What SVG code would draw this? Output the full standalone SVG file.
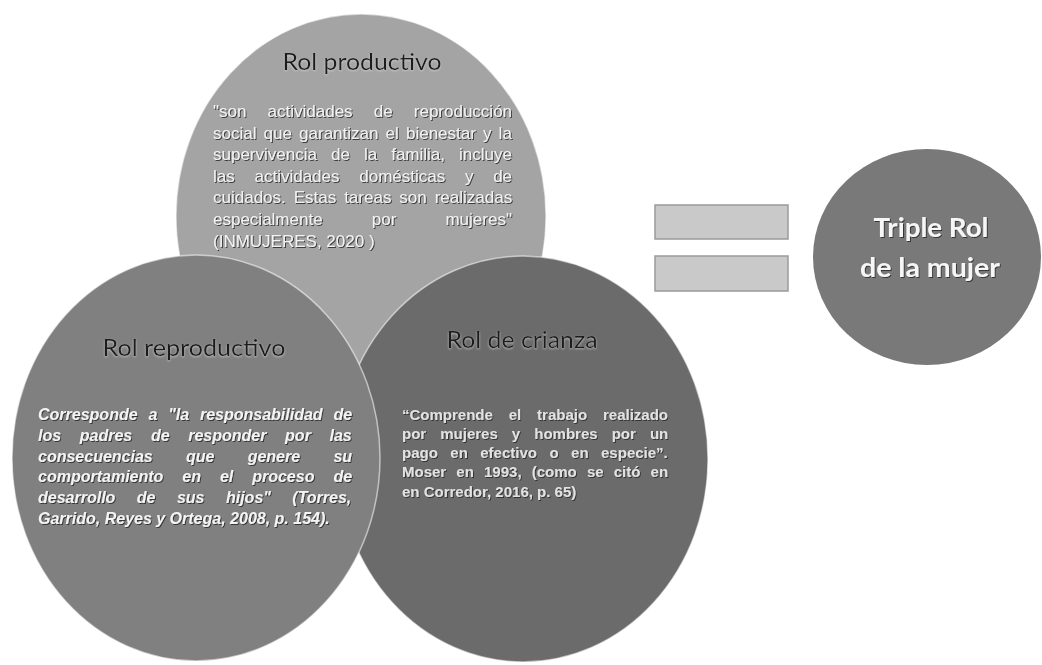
<svg xmlns="http://www.w3.org/2000/svg" width="1042" height="665" viewBox="0 0 1042 665">
  <defs>
    <filter id="shadow" x="-5%" y="-20%" width="110%" height="140%">
      <feDropShadow dx="1" dy="1" stdDeviation="0.6" flood-color="#2a2a2a" flood-opacity="0.85"/>
    </filter>
    <filter id="glow" x="-5%" y="-20%" width="110%" height="140%">
      <feDropShadow dx="0" dy="1" stdDeviation="0.8" flood-color="#d8d8d8" flood-opacity="0.7"/>
    </filter>
    <filter id="soft" x="-5%" y="-5%" width="110%" height="110%">
      <feGaussianBlur stdDeviation="0.8"/>
    </filter>
  </defs>
  <style>
    .circ { stroke: #ffffff; stroke-opacity: 0.55; stroke-width: 1.5; }
    .title { font-family: Lato, "Liberation Sans", sans-serif; font-size: 24px; fill: #1c1c1c; text-anchor: middle; }
    .body { font-family: "Liberation Sans", Arial, sans-serif; filter: url(#shadow); }
    .top { font-size: 17px; fill: #f2f2f2; }
    .left { font-size: 16px; font-weight: bold; font-style: italic; fill: #f4f4f4; }
    .right { font-size: 15px; font-weight: bold; fill: #e2e2e2; }
    .big { font-family: Lato, "Liberation Sans", sans-serif; font-size: 27px; font-weight: bold; fill: #f6f6f6; text-anchor: middle; filter: url(#shadow); }
    .bar { fill: #c9c9c9; stroke: #9a9a9a; stroke-width: 1.5; }
  </style>

  <rect width="1042" height="665" fill="#ffffff"/>

  <g id="rol-productivo">
    <ellipse class="circ" cx="361" cy="216" rx="185" ry="202" fill="#a4a4a4"/>
    <text class="title" x="362" y="70" textLength="159" lengthAdjust="spacingAndGlyphs" filter="url(#glow)">Rol productivo</text>
    <g class="body top">
      <text x="213" y="117" word-spacing="16.4">"son actividades de reproducción</text>
      <text x="213" y="138.6" word-spacing="2.4">social que garantizan el bienestar y la</text>
      <text x="213" y="160.2" word-spacing="9.3">supervivencia de la familia, incluye</text>
      <text x="213" y="181.8" word-spacing="15">las actividades domésticas y de</text>
      <text x="213" y="203.4" word-spacing="3.2">cuidados. Estas tareas son realizadas</text>
      <text x="213" y="225" word-spacing="44.4">especialmente por mujeres"</text>
      <text x="213" y="246.6">(INMUJERES, 2020 )</text>
    </g>
  </g>

  <g id="rol-de-crianza">
    <ellipse class="circ" cx="523" cy="459" rx="185" ry="203" fill="#6b6b6b"/>
    <text class="title" x="522" y="348" textLength="151" lengthAdjust="spacingAndGlyphs" filter="url(#glow)">Rol de crianza</text>
    <g class="body right">
      <text x="402" y="419.5" word-spacing="11.7">“Comprende el trabajo realizado</text>
      <text x="402" y="438.8" word-spacing="9.9">por mujeres y hombres por un</text>
      <text x="402" y="458" word-spacing="8.3">pago en efectivo o en especie”.</text>
      <text x="402" y="477.3" word-spacing="6">Moser en 1993, (como se citó en</text>
      <text x="402" y="496.5">en Corredor, 2016, p. 65)</text>
    </g>
  </g>

  <g id="rol-reproductivo">
    <ellipse class="circ" cx="196" cy="458" rx="184" ry="203" fill="#808080"/>
    <text class="title" x="194" y="356" textLength="183" lengthAdjust="spacingAndGlyphs" filter="url(#glow)">Rol reproductivo</text>
    <g class="body left">
      <text x="38" y="420" word-spacing="6.4">Corresponde a "la responsabilidad de</text>
      <text x="38" y="440.8" word-spacing="14.2">los padres de responder por las</text>
      <text x="38" y="461.6" word-spacing="28.8">consecuencias que genere su</text>
      <text x="38" y="482.4" word-spacing="14.5">comportamiento en el proceso de</text>
      <text x="38" y="503.2" word-spacing="17">desarrollo de sus hijos" (Torres,</text>
      <text x="38" y="524">Garrido, Reyes y Ortega, 2008, p. 154).</text>
    </g>
  </g>

  <g id="equals">
    <rect class="bar" x="655" y="205" width="133" height="34"/>
    <rect class="bar" x="655" y="256" width="133" height="35"/>
  </g>

  <g id="triple-rol">
    <ellipse cx="927" cy="257" rx="114" ry="108" fill="#797979"/>
    <text class="big" x="931" y="237" textLength="115" lengthAdjust="spacingAndGlyphs">Triple Rol</text>
    <text class="big" x="930" y="277" textLength="140" lengthAdjust="spacingAndGlyphs">de la mujer</text>
  </g>

  <g id="connectors"></g>
</svg>
